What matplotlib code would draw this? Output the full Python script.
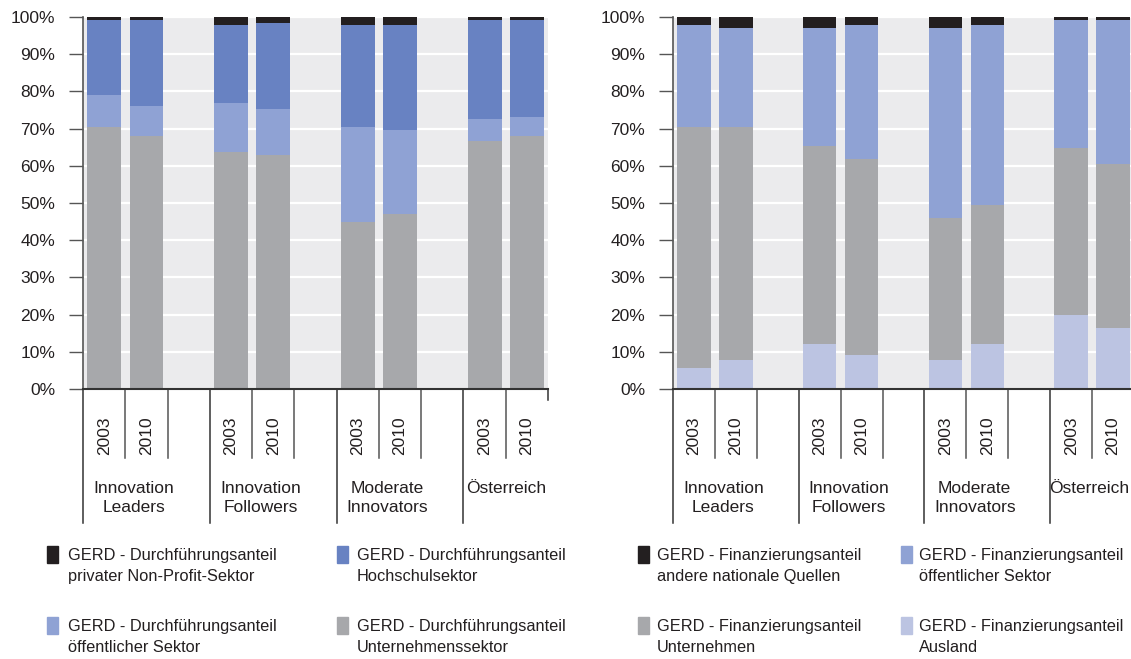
import matplotlib
matplotlib.use("Agg")
import matplotlib.pyplot as plt
from matplotlib.patches import Rectangle
from matplotlib.transforms import blended_transform_factory

plt.rcParams["font.family"] = ["Liberation Sans", "DejaVu Sans"]

groups = ["Innovation\nLeaders", "Innovation\nFollowers", "Moderate\nInnovators", "Österreich"]
years = ["2003", "2010"]

# Durchführungsanteil (links), Reihenfolge: 2003/2010 je Gruppe
d_unternehmen = [70.3, 68.1, 63.8, 63.0, 45.0, 47.1, 66.6, 68.1]
d_oeffentlich = [8.6, 7.9, 13.0, 12.4, 25.3, 22.4, 5.9, 5.1]
d_hochschule = [20.3, 23.2, 21.0, 23.1, 27.5, 28.3, 26.7, 26.0]
d_nonprofit = [0.8, 0.8, 2.2, 1.5, 2.2, 2.2, 0.8, 0.8]

# Finanzierungsanteil (rechts)
f_ausland = [5.6, 7.7, 12.1, 9.1, 7.7, 12.1, 20.0, 16.4]
f_unternehmen = [64.8, 62.7, 53.2, 52.6, 38.2, 37.4, 44.7, 44.0]
f_oeffentlich = [27.4, 26.6, 31.7, 36.1, 51.1, 48.3, 34.5, 38.8]
f_andere = [2.2, 3.0, 3.0, 2.2, 3.0, 2.2, 0.8, 0.8]

C_BLACK = "#231f20"
C_BLUE = "#6882c2"
C_LBLUE = "#8fa2d4"
C_GRAY = "#a7a8ab"
C_VLBLUE = "#bcc4e2"
BG = "#ebebed"
TXT = "#231f20"
FS = 12.5
FS_LEG = 11.8

W, H = 1131, 659


def fx(px):
    return px / W


def fy(py):
    return 1 - py / H


# Positionen: 3 Slots pro Gruppe, der letzte Slot bleibt leer (außer Österreich)
positions = []
for g in range(len(groups)):
    for j in range(len(years)):
        positions.append(g * 3 + j)
n_slots = 11


def draw_panel(ax, series, label_x):
    ax.set_facecolor(BG)
    ax.set_xlim(-0.5, n_slots - 0.5)
    ax.set_ylim(0, 100)
    ax.set_yticks(range(0, 101, 10))
    ax.set_yticklabels([f"{v}%" for v in range(0, 101, 10)], fontsize=FS, color=TXT)
    ax.yaxis.grid(True, color="white", linewidth=1.6)
    ax.set_axisbelow(True)
    ax.tick_params(axis="y", length=10, width=1, color="#555555", pad=10)
    ax.set_xticks([])
    for s in ["top", "right"]:
        ax.spines[s].set_visible(False)
    ax.spines["left"].set_color("#555555")
    ax.spines["left"].set_linewidth(1.2)
    ax.spines["bottom"].set_color("#333333")
    ax.spines["bottom"].set_linewidth(1.5)

    bottom = [0.0] * len(positions)
    for vals, color in series:
        ax.bar(positions, vals, width=0.8, bottom=bottom, color=color,
               edgecolor="none", zorder=2)
        bottom = [b + v for b, v in zip(bottom, vals)]

    tr = blended_transform_factory(ax.transData, ax.transAxes)
    # Trennlinien der Kategorien
    for k in range(n_slots + 1):
        xb = k - 0.5
        if k % 3 == 0 and k < n_slots:
            y0 = -0.36
            col = "#333333"
        elif k == n_slots:
            y0 = -0.03
            col = "#333333"
        else:
            y0 = -0.185
            col = "#555555"
        ax.plot([xb, xb], [0, y0], transform=tr, color=col, linewidth=1.1,
                clip_on=False)
    for i, p in enumerate(positions):
        ax.text(p, -0.125, years[i % 2], transform=tr, rotation=90,
                ha="center", va="center", fontsize=FS, color=TXT)
    for g, name in enumerate(groups):
        ax.text(label_x[g], -0.246, name, transform=tr, ha="center", va="top",
                fontsize=FS, color=TXT, linespacing=1.35)


def draw_legend(fig, items):
    for (sq_x, txt_x, top, color, label) in items:
        fig.add_artist(Rectangle((fx(sq_x), fy(top + 17)), 11 / W, 17 / H,
                                 transform=fig.transFigure, color=color))
        fig.text(fx(txt_x), fy(top + 2), label, ha="left", va="top",
                 fontsize=FS_LEG, color=TXT, linespacing=1.5)


fig = plt.figure(figsize=(W / 100, H / 100), dpi=100)

ax1 = fig.add_axes([fx(83), fy(389), 465 / W, 372 / H])
draw_panel(ax1, [(d_unternehmen, C_GRAY), (d_oeffentlich, C_LBLUE),
                 (d_hochschule, C_BLUE), (d_nonprofit, C_BLACK)],
           [0.7, 3.7, 6.7, 9.5])

ax2 = fig.add_axes([fx(673), fy(389), 461 / W, 372 / H])
draw_panel(ax2, [(f_ausland, C_VLBLUE), (f_unternehmen, C_GRAY),
                 (f_oeffentlich, C_LBLUE), (f_andere, C_BLACK)],
           [0.7, 3.7, 6.7, 9.42])

draw_legend(fig, [
    (47, 68, 546, C_BLACK, "GERD - Durchführungsanteil\nprivater Non-Profit-Sektor"),
    (337, 357, 546, C_BLUE, "GERD - Durchführungsanteil\nHochschulsektor"),
    (47, 68, 617, C_LBLUE, "GERD - Durchführungsanteil\nöffentlicher Sektor"),
    (337, 357, 617, C_GRAY, "GERD - Durchführungsanteil\nUnternehmenssektor"),
    (638, 657, 546, C_BLACK, "GERD - Finanzierungsanteil\nandere nationale Quellen"),
    (901, 919, 546, C_LBLUE, "GERD - Finanzierungsanteil\nöffentlicher Sektor"),
    (638, 657, 617, C_GRAY, "GERD - Finanzierungsanteil\nUnternehmen"),
    (901, 919, 617, C_VLBLUE, "GERD - Finanzierungsanteil\nAusland"),
])

fig.savefig("out.png", dpi=100)
